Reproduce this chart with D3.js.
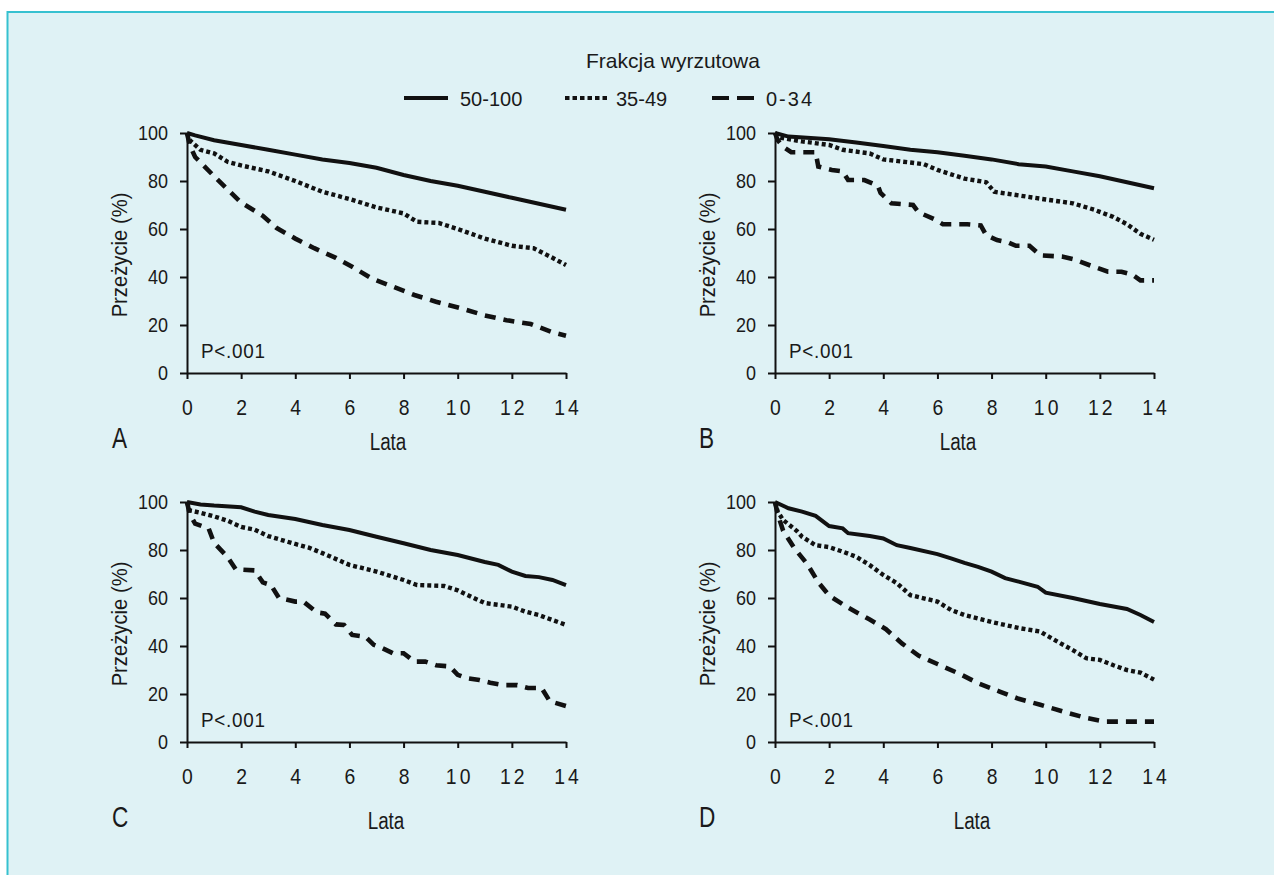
<!DOCTYPE html>
<html>
<head>
<meta charset="utf-8">
<script src="https://cdn.jsdelivr.net/npm/d3@7"></script>
<style>
  body { margin: 0; background: #ffffff; }
  svg text { font-family: "Liberation Sans", Arial, sans-serif; fill: #1a1a1a; }
</style>
</head>
<body>
<div id="chart"></div>
<script>
// legend / series
const groups = ["50-100", "35-49", "0-34"];
const xTicks = [0, 2, 4, 6, 8, 10, 12, 14];
const yTicks = [0, 20, 40, 60, 80, 100];

// [years, survival %]
const aHigh = [[0,100],[0.3,99],[1,97],[2,95],[3,93],[4,91],[5,89],[6,87.5],[7,85.5],[8,82.5],[9,80],[10,78],[11,75.5],[12,73],[13,70.5],[14,68]];
const aMid = [[0,100],[0.1,97],[0.5,93],[1,91.5],[1.5,88],[2,86.5],[3,84],[4,80],[5,75.5],[6,72.5],[7,69],[8,66.5],[8.5,63],[9.3,62.5],[10,60],[11,56],[12,53],[12.8,52],[13.5,48],[14,45]];
const aLow = [[0,100],[0.1,95],[0.3,90],[1,82],[1.5,76.5],[2,71],[2.8,65.5],[3.3,60.5],[4,56],[4.7,52],[5.5,48],[6.1,44.3],[6.8,39.5],[7.6,36],[8.4,32.5],[9.2,29.7],[10.1,27],[11,24],[11.8,22],[12.7,20.4],[13.5,17],[14,15.5]];

const bHigh = [[0,100],[0.5,98.5],[2,97.4],[3,96],[4,94.6],[5,93],[6,92],[7,90.5],[8,89],[9,87],[10,86],[11,84],[12,82],[13,79.5],[14,77]];
const bMid = [[0,100],[0.2,98],[1,96.5],[2,95],[2.5,93],[3.5,91.5],[4,89],[5,87.7],[5.5,87],[6,84.6],[7,81],[7.8,79.5],[8.1,75.5],[9,74],[10,72.3],[11,70.7],[11.8,68],[12.5,65],[13,62],[13.5,58],[14,55.5]];
const bLow = [[0,100],[0.1,97],[0.3,94.3],[0.6,92],[1.5,92],[1.6,86],[2.1,84.6],[2.5,84],[2.7,80.4],[3.3,80.4],[3.8,78],[3.9,75],[4.3,70.7],[5.1,70],[5.3,67],[5.9,64],[6.2,62],[7.1,62],[7.6,61.5],[7.8,57.5],[8.2,55.4],[8.6,54.5],[8.9,53],[9.4,53],[9.8,49],[10.6,48.5],[11,47.5],[11.6,45],[12.3,42.2],[12.8,42.2],[13.2,41],[13.5,38.6],[14,38.6]];

const cHigh = [[0,100],[0.5,99],[1,98.5],[2,97.8],[2.5,96],[3,94.6],[4,92.9],[5,90.4],[6,88.3],[7,85.5],[8,82.8],[9,80],[10,77.9],[11,75],[11.5,73.8],[12,71],[12.5,69.2],[13,68.7],[13.5,67.5],[14,65.4]];
const cMid = [[0,100],[0.1,96.5],[0.5,95.5],[1,94],[1.5,92.2],[2,89.6],[2.5,88.5],[3,85.8],[4,82.5],[4.5,81],[5,78.7],[6,73.8],[7,71],[8,67.5],[8.5,65.4],[9.5,65],[10,63.2],[10.5,60.5],[11,57.9],[12,56.4],[12.5,54.3],[13,52.9],[13.5,50.8],[14,48.8]];
const cLow = [[0,100],[0.1,95],[0.3,91],[0.8,89],[1,83],[1.5,77],[1.8,72],[2.5,71.5],[2.8,66.5],[3.1,65.4],[3.4,60],[4,58.5],[4.3,58.5],[4.8,54],[5.1,53.5],[5.5,49],[5.8,48.8],[6.1,44.6],[6.6,43.8],[6.9,40.5],[7.2,39.2],[7.6,37],[8,37],[8.4,33.5],[8.8,33.5],[9.2,32],[9.7,31.5],[10,28],[10.3,26.7],[10.8,25.8],[11.2,24.7],[11.7,23.7],[12.2,23.7],[12.6,22.5],[13.1,22.5],[13.4,17],[14,15]];

const dHigh = [[0,100],[0.5,97.4],[1,96],[1.5,94.2],[2,90],[2.5,89],[2.7,87],[3.5,85.8],[4,84.8],[4.5,82],[5,80.8],[6,78.3],[6.5,76.5],[7,74.6],[7.5,73],[8,71],[8.5,68.3],[9,66.8],[9.7,64.7],[10,62.2],[11,60],[12,57.5],[13,55.4],[13.5,52.9],[14,50]];
const dMid = [[0,100],[0.1,96],[0.3,92.5],[0.8,88],[1,85.5],[1.5,82],[2,81.2],[2.5,79.3],[3,77.2],[3.5,73.7],[4,69.6],[4.5,66.2],[5,61.2],[6,58.5],[6.5,55],[7,52.9],[8,50],[9,47.5],[9.8,46],[10,44.6],[10.5,41.4],[11,38.3],[11.5,34.9],[12,34.2],[12.5,32],[13,30],[13.5,28.9],[14,26]];
const dLow = [[0,100],[0.1,95],[0.3,88],[0.7,81],[1.2,74],[1.6,66.5],[2,61],[2.7,56],[3.5,51],[4.1,47],[4.7,41],[5.3,36],[6,32.5],[6.8,28.5],[7.5,24.5],[8.3,21],[9,18],[9.8,15.5],[10.7,12.5],[11.5,10],[12.2,8.5],[14,8.5]];

const panelLetters = ["A", "B", "C", "D"];
const panelSeries = [[aHigh, aMid, aLow], [bHigh, bMid, bLow], [cHigh, cMid, cLow], [dHigh, dMid, dLow]];

// layout
const W = 1274, H = 875;
const pw = 379, ph = 240;
const origins = [[187, 133], [775, 133], [187, 502], [775, 502]];
const lataX = [388, 958, 386, 972];
const styles = [
  { width: 4, dash: null },
  { width: 4.4, dash: "4,3" },
  { width: 4.6, dash: "11,8" }
];

const svg = d3.select("#chart").append("svg")
  .attr("width", W).attr("height", H);

svg.append("rect")
  .attr("x", 7.5).attr("y", 12).attr("width", W + 10).attr("height", H)
  .attr("fill", "#dff2f5").attr("stroke", "#36c1d0").attr("stroke-width", 2);

// legend
svg.append("text").attr("x", 673).attr("y", 68).attr("text-anchor", "middle")
  .attr("font-size", 21).text("Frakcja wyrzutowa");

const legendX = [[404, 448, 460], [565, 607, 616], [712, 757, 766]];
groups.forEach((g, i) => {
  const [x1, x2, tx] = legendX[i];
  svg.append("line").attr("x1", x1).attr("x2", x2).attr("y1", 98).attr("y2", 98)
    .attr("stroke", "#111").attr("stroke-width", 4)
    .attr("stroke-dasharray", i === 0 ? null : (i === 1 ? "4.5,3" : "17,8"));
  svg.append("text").attr("x", tx).attr("y", 106).attr("font-size", 20)
    .attr("letter-spacing", i === 2 ? 2 : 0).text(g);
});

const x = d3.scaleLinear().domain([0, 14]).range([0, pw]);
const y = d3.scaleLinear().domain([0, 100]).range([ph, 0]);

panelSeries.forEach((series, p) => {
  const [ox, oy] = origins[p];
  const g = svg.append("g").attr("transform", `translate(${ox},${oy})`);

  // axes
  const gx = g.append("g").attr("transform", `translate(0,${ph})`)
    .call(d3.axisBottom(x).tickValues(xTicks).tickSize(6).tickSizeOuter(0).tickPadding(20));
  const gy = g.append("g")
    .call(d3.axisLeft(y).tickValues(yTicks).tickSize(7).tickSizeOuter(0).tickPadding(12));
  [gx, gy].forEach(a => {
    a.select(".domain").attr("stroke", "#111").attr("stroke-width", 2);
    a.selectAll(".tick line").attr("stroke", "#111").attr("stroke-width", 2);
    a.selectAll("text").attr("fill", "#1a1a1a").attr("font-family", null);
  });
  // slightly condensed tick labels
  gy.selectAll("text").attr("font-size", 20)
    .attr("x", -19 / 0.9).attr("transform", "scale(0.9,1)");
  gx.selectAll("text").attr("font-size", 22).attr("letter-spacing", 3.5).attr("dx", 1.7)
    .attr("transform", "scale(0.88,1)");

  // curves
  const line = d3.line().x(d => x(d[0])).y(d => y(d[1]));
  series.forEach((s, i) => {
    g.append("path").datum(s)
      .attr("fill", "none").attr("stroke", "#111")
      .attr("stroke-width", styles[i].width)
      .attr("stroke-dasharray", styles[i].dash)
      .attr("d", line);
  });

  g.append("text")
    .attr("transform", `translate(14,${ph - 15}) scale(0.9,1)`)
    .attr("font-size", 21).attr("letter-spacing", 0.8)
    .text("P<.001");

  g.append("text")
    .attr("transform", `translate(${-60},${ph / 2 + 2}) rotate(-90) scale(0.92,1)`)
    .attr("text-anchor", "middle").attr("font-size", 22)
    .text("Przeżycie (%)");

  const extra = p < 2 ? 0 : 10;
  g.append("text")
    .attr("transform", `translate(${lataX[p] - ox},${ph + 77 + extra}) scale(0.82,1)`)
    .attr("text-anchor", "middle").attr("font-size", 23)
    .text("Lata");

  g.append("text")
    .attr("transform", `translate(${(p % 2 === 0 ? 112 : 699) - ox},${ph + 75 + extra}) scale(0.78,1)`)
    .attr("font-size", 29).text(panelLetters[p]);
});
</script>
</body>
</html>
